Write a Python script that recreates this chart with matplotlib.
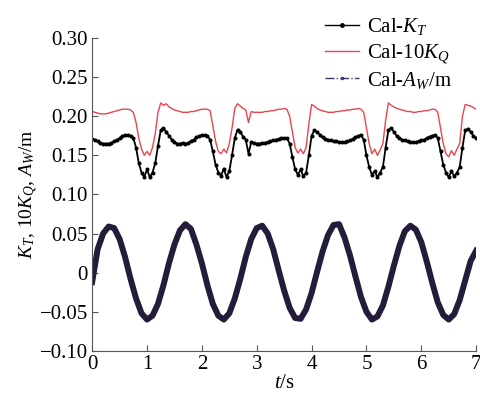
import numpy as np
import matplotlib.pyplot as plt
from matplotlib.lines import Line2D

plt.rcParams['font.family'] = ['Liberation Serif', 'DejaVu Serif']
plt.rcParams['mathtext.fontset'] = 'custom'
plt.rcParams['mathtext.rm'] = 'Liberation Serif'
plt.rcParams['mathtext.it'] = 'Liberation Serif:italic'

# time grids (s)
t_k = np.round(np.arange(0, 7.001, 0.05), 2)
t_a = np.round(np.arange(0, 7.001, 0.1), 1)

# Cal-K_T, one row per 0.5 s
kt = [
    0.171, 0.170, 0.168, 0.166, 0.165, 0.165, 0.165, 0.166, 0.168, 0.170,
    0.172, 0.175, 0.176, 0.176, 0.175, 0.172, 0.160, 0.140, 0.128, 0.122,
    0.132, 0.122, 0.128, 0.140, 0.162, 0.182, 0.185, 0.180, 0.175, 0.170,
    0.167, 0.165, 0.165, 0.166, 0.165, 0.166, 0.168, 0.170, 0.173, 0.175,
    0.176, 0.176, 0.175, 0.170, 0.155, 0.138, 0.128, 0.124, 0.133, 0.122,
    0.130, 0.150, 0.172, 0.183, 0.180, 0.174, 0.170, 0.152, 0.167, 0.166,
    0.165, 0.165, 0.166, 0.166, 0.167, 0.168, 0.169, 0.170, 0.171, 0.172,
    0.172, 0.172, 0.165, 0.148, 0.132, 0.125, 0.132, 0.123, 0.128, 0.150,
    0.175, 0.182, 0.180, 0.176, 0.173, 0.171, 0.170, 0.169, 0.168, 0.168,
    0.167, 0.167, 0.167, 0.168, 0.169, 0.171, 0.173, 0.175, 0.176, 0.170,
    0.150, 0.135, 0.125, 0.130, 0.122, 0.128, 0.135, 0.160, 0.182, 0.185,
    0.180, 0.175, 0.172, 0.170, 0.169, 0.168, 0.167, 0.167, 0.167, 0.168,
    0.169, 0.170, 0.172, 0.174, 0.175, 0.176, 0.172, 0.155, 0.138, 0.128,
    0.122, 0.130, 0.123, 0.128, 0.135, 0.160, 0.182, 0.184, 0.180, 0.175,
    0.172,
]

# Cal-10K_Q
kq = [
    0.206, 0.205, 0.204, 0.203, 0.203, 0.203, 0.204, 0.205, 0.206, 0.207,
    0.208, 0.209, 0.209, 0.209, 0.208, 0.205, 0.192, 0.172, 0.158, 0.150,
    0.155, 0.150, 0.160, 0.178, 0.205, 0.217, 0.214, 0.216, 0.212, 0.210,
    0.208, 0.207, 0.206, 0.205, 0.205, 0.205, 0.206, 0.206, 0.207, 0.208,
    0.209, 0.209, 0.209, 0.207, 0.188, 0.168, 0.155, 0.152, 0.158, 0.153,
    0.165, 0.185, 0.210, 0.216, 0.213, 0.210, 0.208, 0.192, 0.206, 0.205,
    0.205, 0.205, 0.205, 0.206, 0.206, 0.207, 0.207, 0.208, 0.209, 0.209,
    0.210, 0.209, 0.200, 0.180, 0.160, 0.153, 0.158, 0.152, 0.160, 0.190,
    0.215, 0.213, 0.210, 0.208, 0.207, 0.206, 0.205, 0.205, 0.205, 0.206,
    0.206, 0.207, 0.207, 0.208, 0.208, 0.209, 0.209, 0.210, 0.209, 0.205,
    0.185, 0.165, 0.152, 0.158, 0.150, 0.157, 0.165, 0.195, 0.217, 0.214,
    0.212, 0.210, 0.209, 0.208, 0.207, 0.206, 0.206, 0.205, 0.205, 0.206,
    0.206, 0.207, 0.207, 0.208, 0.209, 0.209, 0.205, 0.185, 0.165, 0.152,
    0.148, 0.156, 0.150, 0.158, 0.165, 0.200, 0.215, 0.214, 0.213, 0.211,
    0.209,
]

# Cal-A_W (m), one row per 1 s
aw = [
    -0.012, 0.030, 0.050, 0.059, 0.057, 0.043, 0.020, -0.008, -0.033, -0.052,
    -0.060, -0.055, -0.040, -0.016, 0.012, 0.036, 0.054, 0.062, 0.056, 0.036,
    0.012, -0.016, -0.040, -0.055, -0.060, -0.052, -0.033, -0.008, 0.020, 0.043,
    0.057, 0.060, 0.050, 0.030, 0.003, -0.023, -0.045, -0.058, -0.059, -0.047,
    -0.026, 0.001, 0.027, 0.048, 0.061, 0.062, 0.045, 0.022, -0.005, -0.031,
    -0.050, -0.060, -0.056, -0.042, -0.018, 0.009, 0.034, 0.053, 0.060, 0.055,
    0.039, 0.014, -0.013, -0.038, -0.054, -0.060, -0.053, -0.035, -0.010, 0.015,
    0.028,
]

red = '#e8454f'
navy = '#241c3a'

fig = plt.figure(figsize=(4.8, 3.96), dpi=100)
ax = fig.add_axes([0.192, 0.114, 0.8, 0.79])

ax.plot(t_a, aw, color=navy, lw=4.3, solid_joinstyle='round')
ax.plot(t_k, kq, color=red, lw=1.0)
ax.plot(t_k, kt, color='black', lw=1.3, marker='o', ms=1.9)

ax.set_xlim(0, 7)
ax.set_ylim(-0.10, 0.30)
ax.set_xticks(range(8))
ax.set_yticks([-0.10, -0.05, 0, 0.05, 0.10, 0.15, 0.20, 0.25, 0.30])
ax.set_yticklabels(['\u22120.10', '\u22120.05', '0', '0.05', '0.10', '0.15',
                    '0.20', '0.25', '0.30'])
ax.tick_params(direction='in', length=4, labelsize=15, color='#555555', pad=3)
ax.spines['top'].set_visible(False)
ax.spines['right'].set_visible(False)
for s in ['left', 'bottom']:
    ax.spines[s].set_color('#555555')

ax.set_xlabel('$t$/s', fontsize=15, labelpad=0)
ax.set_ylabel('$K_T$, 10$K_Q$, $A_W$/m', fontsize=14)
ax.yaxis.set_label_coords(-0.135, 0.5)

handles = [
    Line2D([], [], color='black', lw=1.0, marker='o', ms=2.5),
    Line2D([], [], color=red, lw=1.0),
    Line2D([], [], color='#3a3a66', lw=1.0, ls='-.', marker='.', ms=3),
]
labels = ['Cal-$K_T$', 'Cal-10$K_Q$', 'Cal-$A_W$/m']
fig.legend(handles, labels, loc='upper left', bbox_to_anchor=(0.652, 0.99),
           frameon=False, fontsize=15, handlelength=1.6, handletextpad=0.4,
           labelspacing=0.2, borderpad=0.1)

fig.savefig('out.png', dpi=100)
